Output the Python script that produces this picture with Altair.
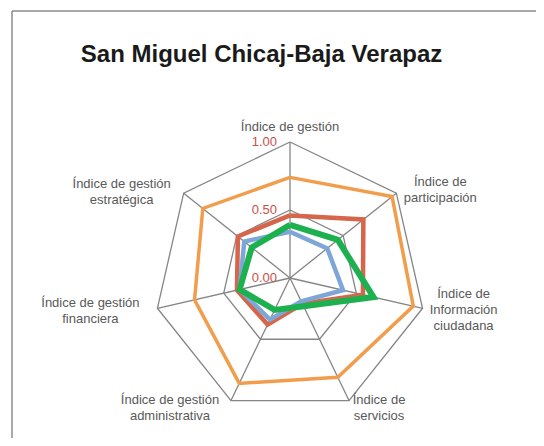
import altair as alt
import pandas as pd

title_text = "San Miguel Chicaj-Baja Verapaz"
categories = [
    "Índice de gestión",
    "Índice de\nparticipación",
    "Índice de\nInformación\nciudadana",
    "Índice de\nservicios",
    "Índice de gestión\nadministrativa",
    "Índice de gestión\nfinanciera",
    "Índice de gestión\nestratégica",
]
series_names = ["Serie 1", "Serie 2", "Serie 3", "Serie 4"]
serie_1 = [0.74, 0.96, 0.93, 0.81, 0.86, 0.72, 0.82]
serie_2 = [0.46, 0.69, 0.55, 0.21, 0.38, 0.40, 0.49]
serie_3 = [0.34, 0.35, 0.40, 0.19, 0.34, 0.38, 0.43]
serie_4 = [0.39, 0.45, 0.63, 0.23, 0.26, 0.38, 0.36]
series_colors = ["#F29D4B", "#D5664C", "#7EA6D8", "#1DB04F"]
series_widths = [3.5, 4.5, 4.5, 6]
ring_levels = [0.5, 1.0]
tick_values = [0.0, 0.5, 1.0]
tick_labels = ["0.00", "0.50", "1.00"]

N = len(categories)
CX, CY, R = 282, 270, 136
W, H = 528, 430

xs = alt.Scale(domain=[-1, 1], range=[CX - R, CX + R], zero=False, nice=False)
ys = alt.Scale(domain=[-1, 1], range=[CY + R, CY - R], zero=False, nice=False)
X = lambda f: alt.X(f, type="quantitative", scale=xs, axis=None)
Y = lambda f: alt.Y(f, type="quantitative", scale=ys, axis=None)

theta = f"PI/2 - datum.k*2*PI/{N}"

# series
rows = []
for s, vals in zip(series_names, [serie_1, serie_2, serie_3, serie_4]):
    for k in range(N + 1):
        rows.append({"serie": s, "k": k, "v": vals[k % N]})
sdf = pd.DataFrame(rows)

# rings
ring_rows = []
for lv in ring_levels:
    for k in range(N + 1):
        ring_rows.append({"ring": str(lv), "k": k, "v": lv})
rdf = pd.DataFrame(ring_rows)

spoke_df = pd.DataFrame({"k": list(range(N))})
tick_df = pd.DataFrame({"v": tick_values, "t": tick_labels})
lab_df = pd.DataFrame({"k": list(range(N)), "label": categories})

grid_color = "#858585"

rings = alt.Chart(rdf).transform_calculate(
    x=f"datum.v*cos({theta})", y=f"datum.v*sin({theta})"
).mark_line(color=grid_color, strokeWidth=1.3).encode(
    x=X("x"), y=Y("y"), detail="ring:N", order="k:Q"
)

spokes = alt.Chart(spoke_df).transform_calculate(
    x0="0", y0="0", x=f"cos({theta})", y=f"sin({theta})"
).mark_rule(color=grid_color, strokeWidth=1.3).encode(
    x=X("x0"), y=Y("y0"), x2="x:Q", y2="y:Q"
)

lines = []
for s, c, w in zip(series_names, series_colors, series_widths):
    lines.append(
        alt.Chart(sdf).transform_filter(alt.datum.serie == s).transform_calculate(
            x=f"datum.v*cos({theta})", y=f"datum.v*sin({theta})"
        ).mark_line(color=c, strokeWidth=w, strokeJoin="miter").encode(
            x=X("x"), y=Y("y"), order="k:Q"
        )
    )

ticks = alt.Chart(tick_df).transform_calculate(x0="0").mark_text(
    align="right", baseline="middle", dx=-13, fontSize=13,
    font="Liberation Sans", color="#C8504B"
).encode(x=X("x0"), y=Y("v"), text="t:N")

label_offsets = [(0, -15), (44, -3), (41, 2), (30, 7), (-61, 7), (-67, 3), (-62, -1)]
labels = []
for k, (dx, dy) in enumerate(label_offsets):
    nl = categories[k].count("\n") + 1
    labels.append(
        alt.Chart(lab_df).transform_filter(alt.datum.k == k).transform_calculate(
            x=f"cos({theta})", y=f"sin({theta})"
        ).mark_text(
            align="center", baseline="middle", dx=dx, dy=dy - (nl - 1) * 8,
            fontSize=13, font="Liberation Sans", color="#595959",
            lineBreak="\n", lineHeight=16
        ).encode(x=X("x"), y=Y("y"), text="label:N")
    )

title = alt.Chart(pd.DataFrame({"t": [title_text]})).mark_text(
    fontSize=24, fontWeight="bold", font="Liberation Sans", color="#1a1a1a",
    align="center", baseline="alphabetic"
).encode(x=alt.value(253.5), y=alt.value(54), text="t:N")

frame_top = alt.Chart(pd.DataFrame({"a": [0]})).mark_rule(
    color="#8c8c8c", strokeWidth=1.5
).encode(x=alt.value(4), x2=alt.value(W), y=alt.value(3))
frame_left = alt.Chart(pd.DataFrame({"a": [0]})).mark_rule(
    color="#8c8c8c", strokeWidth=1.5
).encode(x=alt.value(4), y=alt.value(3), y2=alt.value(H))

chart = alt.layer(
    frame_top, frame_left, rings, spokes, *lines, ticks, *labels, title
).properties(
    width=W, height=H, autosize=alt.AutoSizeParams(type="none"), padding=0
).configure_view(stroke=None)

chart.save("out.html", embed_options={"renderer": "svg", "actions": False})
